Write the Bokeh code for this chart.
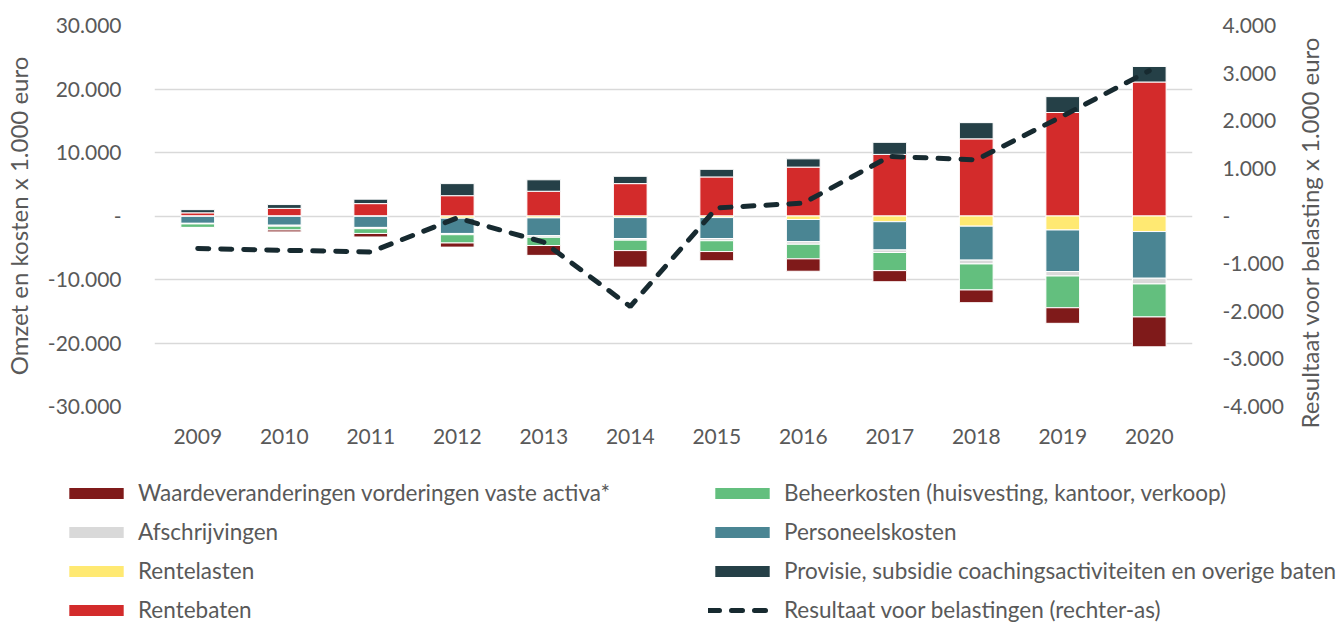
import math
from bokeh.plotting import figure
from bokeh.models import (FactorRange, Range1d, LinearAxis, FixedTicker, Legend,
                          LegendItem, ColumnDataSource, Label)
from bokeh.embed import file_html
from bokeh.resources import INLINE

years = [str(y) for y in range(2009, 2021)]

# values x 1.000 euro (left axis); costs given as positive amounts
rentebaten = [500, 1200, 1950, 3200, 3900, 5100, 6150, 7700, 9700, 12150, 16300, 21100]
provisie = [500, 600, 700, 1900, 1800, 1150, 1200, 1300, 1900, 2550, 2500, 2450]
rentelasten = [50, 50, 50, 350, 300, 250, 250, 550, 900, 1600, 2200, 2450]
personeelskosten = [1100, 1400, 1750, 2400, 2800, 3300, 3300, 3500, 4450, 5350, 6550, 7350]
afschrijvingen = [100, 150, 200, 200, 250, 250, 350, 400, 400, 600, 700, 900]
beheerkosten = [550, 600, 750, 1300, 1300, 1650, 1700, 2300, 2850, 4100, 5000, 5200]
waardeveranderingen = [50, 300, 550, 650, 1550, 2600, 1450, 1950, 1750, 2000, 2450, 4700]
# right axis
resultaat = [-680, -720, -755, -40, -550, -1900, 170, 270, 1250, 1180, 2100, 3050]

left_ticks = [-30000, -20000, -10000, 0, 10000, 20000, 30000]
left_labels = ["-30.000", "-20.000", "-10.000", "-", "10.000", "20.000", "30.000"]
right_ticks = [-4000, -3000, -2000, -1000, 0, 1000, 2000, 3000, 4000]
right_labels = ["-4.000", "-3.000", "-2.000", "-1.000", "-", "1.000", "2.000", "3.000", "4.000"]

FONT = "Lato"
TXT = "#595959"
C_RED = "#d32b2b"
C_PROV = "#254047"
C_YEL = "#ffe972"
C_PERS = "#4a8593"
C_GREY = "#d9d9d9"
C_GREEN = "#63bf7e"
C_DRED = "#7f1a1a"
C_LINE = "#172a30"
LINE_DASH = "11 12"

src = ColumnDataSource(dict(
    year=years,
    rentebaten=rentebaten,
    provisie=provisie,
    rentelasten=[-v for v in rentelasten],
    personeel=[-v for v in personeelskosten],
    afschrijvingen=[-v for v in afschrijvingen],
    beheer=[-v for v in beheerkosten],
    waarde=[-v for v in waardeveranderingen],
    resultaat=resultaat,
))

p = figure(x_range=FactorRange(*years), y_range=Range1d(-30000, 30000),
           width=1337, height=460, output_backend="svg", toolbar_location=None,
           min_border_left=150, min_border_right=145, min_border_top=25,
           min_border_bottom=54)
p.extra_y_ranges = {"right": Range1d(-4000, 4000)}
p.outline_line_color = None

pos = p.vbar_stack(["rentebaten", "provisie"], x="year", width=0.39, source=src,
                   fill_color=[C_RED, C_PROV], line_color="white", line_width=1)
neg = p.vbar_stack(["rentelasten", "personeel", "afschrijvingen", "beheer", "waarde"],
                   x="year", width=0.39, source=src,
                   fill_color=[C_YEL, C_PERS, C_GREY, C_GREEN, C_DRED],
                   line_color="white", line_width=1)
ln = p.line(x="year", y="resultaat", source=src, y_range_name="right",
            line_width=5, line_dash=LINE_DASH, line_cap="round", line_color=C_LINE)

# axes
ya = p.yaxis[0]
ya.ticker = FixedTicker(ticks=left_ticks)
ya.major_label_overrides = dict(zip(left_ticks, left_labels))
ya.axis_label = "Omzet en kosten x 1.000 euro"

ra = LinearAxis(y_range_name="right", ticker=FixedTicker(ticks=right_ticks))
ra.major_label_overrides = dict(zip(right_ticks, right_labels))
p.add_layout(ra, "right")

for ax in [ya, ra, p.xaxis[0]]:
    ax.axis_line_color = None
    ax.major_tick_line_color = None
    ax.minor_tick_line_color = None
    ax.major_label_text_font = FONT
    ax.major_label_text_font_size = "21px"
    ax.major_label_text_color = TXT
    ax.axis_label_text_font = FONT
    ax.axis_label_text_font_size = "24px"
    ax.axis_label_text_font_style = "normal"
    ax.axis_label_text_color = TXT
ya.major_label_standoff = 27
ya.axis_label_standoff = 12
ra.major_label_standoff = 24
p.xaxis[0].major_label_standoff = 16

# right axis title, reading bottom-to-top like the left one
rtitle = Label(x=23, y=174, x_units="screen", y_units="screen", angle=math.pi / 2,
               text="Resultaat voor belasting x 1.000 euro", text_align="center",
               text_baseline="middle", text_font=FONT, text_font_size="24px",
               text_color=TXT)
p.add_layout(rtitle, "right")

p.xgrid.grid_line_color = None
p.ygrid.ticker = FixedTicker(ticks=left_ticks)
p.ygrid.grid_line_color = "#d9d9d9"
p.ygrid.grid_line_width = 1.5

# legend panel below the chart; legend keys share the chart's styling
q = figure(width=1337, height=163, x_range=Range1d(0, 1), y_range=Range1d(0, 1),
           output_backend="svg", toolbar_location=None, min_border=0,
           x_axis_type=None, y_axis_type=None)
q.outline_line_color = None
q.grid.visible = False

nan = float("nan")


def key_bar(color):
    return q.vbar(x=[nan], top=[nan], width=0.4, fill_color=color, line_color=None)


k_waarde = key_bar(C_DRED)
k_afschr = key_bar(C_GREY)
k_rlast = key_bar(C_YEL)
k_rbaten = key_bar(C_RED)
k_beheer = key_bar(C_GREEN)
k_pers = key_bar(C_PERS)
k_prov = key_bar(C_PROV)
k_line = q.line(x=[nan], y=[nan], line_width=5, line_dash=LINE_DASH, line_cap="round",
                line_color=C_LINE)

legend_style = dict(border_line_color=None, background_fill_alpha=0, padding=0, margin=0,
                    spacing=12, glyph_width=68, glyph_height=14, label_standoff=8,
                    label_text_font=FONT, label_text_font_size="22.5px",
                    label_text_color=TXT, label_height=27)

leg1 = Legend(items=[
    LegendItem(label="Waardeveranderingen vorderingen vaste activa*", renderers=[k_waarde]),
    LegendItem(label="Afschrijvingen", renderers=[k_afschr]),
    LegendItem(label="Rentelasten", renderers=[k_rlast]),
    LegendItem(label="Rentebaten", renderers=[k_rbaten]),
], location=(62, 0), **legend_style)
leg2 = Legend(items=[
    LegendItem(label="Beheerkosten (huisvesting, kantoor, verkoop)", renderers=[k_beheer]),
    LegendItem(label="Personeelskosten", renderers=[k_pers]),
    LegendItem(label="Provisie, subsidie coachingsactiviteiten en overige baten", renderers=[k_prov]),
    LegendItem(label="Resultaat voor belastingen (rechter-as)", renderers=[k_line]),
], location=(708, 0), **legend_style)
q.add_layout(leg1)
q.add_layout(leg2)

open("out.html", "w").write(file_html([p, q], INLINE))
